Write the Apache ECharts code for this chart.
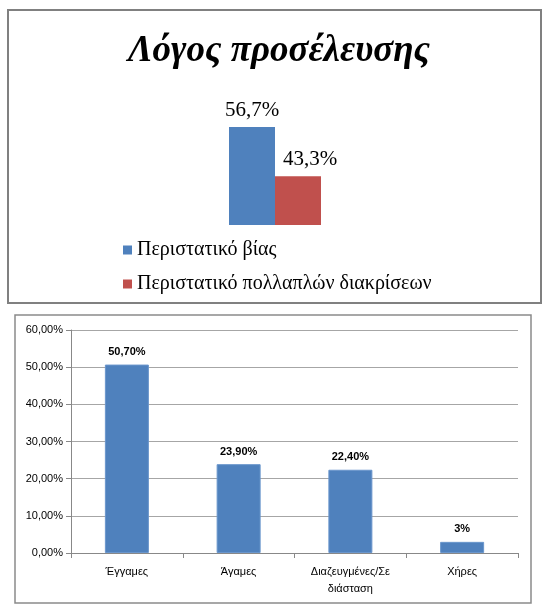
<!DOCTYPE html>
<html>
<head>
<meta charset="utf-8">
<script src="https://cdn.jsdelivr.net/npm/echarts@6/dist/echarts.min.js"></script>
<style>
  html, body { margin: 0; padding: 0; background: #fff; }
  #chart { width: 552px; height: 611px; }
</style>
</head>
<body>
<div id="chart"></div>
<script>
// Γράφημα 1: λόγος προσέλευσης
var reasonNames = ['Περιστατικό βίας', 'Περιστατικό πολλαπλών διακρίσεων'];
var reasonValues = [56.7, 43.3];

// Γράφημα 2: οικογενειακή κατάσταση
var statusCategories = ['Έγγαμες', 'Άγαμες', 'Διαζευγμένες/Σε\nδιάσταση', 'Χήρες'];
var statusValues = [50.7, 23.9, 22.4, 3];
var statusLabels = ['50,70%', '23,90%', '22,40%', '3%'];

document.addEventListener('DOMContentLoaded', function () {
  var chart = echarts.init(document.getElementById('chart'));

  var serif = '"Liberation Serif", "DejaVu Serif", serif';
  var sans = '"Liberation Sans", Arial, sans-serif';

  var option = {
    animation: false,
    title: {
      text: 'Λόγος προσέλευσης',
      left: 274,
      top: 28,
      textAlign: 'center',
      textStyle: {
        fontFamily: serif,
        fontSize: 37,
        fontWeight: 'bold',
        fontStyle: 'italic',
        color: '#000'
      }
    },
    legend: {
      data: reasonNames,
      orient: 'vertical',
      left: 118,
      top: 235,
      itemWidth: 9,
      itemHeight: 9,
      itemGap: 14,
      icon: 'rect',
      textStyle: { fontFamily: serif, fontSize: 20, color: '#000' }
    },
    graphic: [
      {
        type: 'rect',
        shape: { x: 8, y: 10, width: 533, height: 293 },
        style: { fill: 'none', stroke: '#808080', lineWidth: 2 }
      },
      {
        type: 'rect',
        shape: { x: 15, y: 315, width: 516, height: 288 },
        style: { fill: 'none', stroke: '#8a8a8a', lineWidth: 1.5 }
      }
    ],
    grid: [
      { left: 175, right: 177, top: 115, bottom: 386 },
      { left: 71, right: 34, top: 330, bottom: 58 }
    ],
    xAxis: [
      {
        type: 'category',
        gridIndex: 0,
        data: [''],
        show: false
      },
      {
        type: 'category',
        gridIndex: 1,
        data: statusCategories,
        axisLine: { lineStyle: { color: '#888' } },
        axisTick: { show: true, length: 5, lineStyle: { color: '#888' } },
        axisLabel: {
          fontFamily: sans,
          fontSize: 11,
          color: '#000',
          margin: 10,
          lineHeight: 17
        }
      }
    ],
    yAxis: [
      {
        type: 'value',
        gridIndex: 0,
        min: 30,
        max: 60,
        show: false,
        splitLine: { show: false }
      },
      {
        type: 'value',
        gridIndex: 1,
        min: 0,
        max: 60,
        interval: 10,
        axisLine: { show: true, lineStyle: { color: '#888' } },
        axisTick: { show: true, length: 5, lineStyle: { color: '#888' } },
        splitLine: { lineStyle: { color: '#a6a6a6' } },
        axisLabel: {
          fontFamily: sans,
          fontSize: 11,
          color: '#000',
          margin: 8,
          formatter: function (v) { return v.toFixed(2).replace('.', ',') + '%'; }
        }
      }
    ],
    series: [
      {
        name: reasonNames[0],
        type: 'bar',
        xAxisIndex: 0,
        yAxisIndex: 0,
        data: [reasonValues[0]],
        barWidth: 46,
        barGap: '0%',
        itemStyle: { color: '#4F81BD' },
        label: {
          show: true,
          position: 'top',
          distance: 6,
          fontFamily: serif,
          fontSize: 21,
          color: '#000',
          formatter: function (p) { return p.value.toFixed(1).replace('.', ',') + '%'; }
        }
      },
      {
        name: reasonNames[1],
        type: 'bar',
        xAxisIndex: 0,
        yAxisIndex: 0,
        data: [reasonValues[1]],
        barWidth: 46,
        barGap: '0%',
        itemStyle: { color: '#C0504D' },
        label: {
          show: true,
          position: 'top',
          distance: 6,
          offset: [12, 0],
          fontFamily: serif,
          fontSize: 21,
          color: '#000',
          formatter: function (p) { return p.value.toFixed(1).replace('.', ',') + '%'; }
        }
      },
      {
        name: 'Οικογενειακή κατάσταση',
        type: 'bar',
        xAxisIndex: 1,
        yAxisIndex: 1,
        data: statusValues,
        barWidth: 44,
        itemStyle: { color: '#4F81BD', borderColor: '#6a96cc', borderWidth: 1 },
        label: {
          show: true,
          position: 'top',
          distance: 7,
          fontFamily: sans,
          fontSize: 11,
          fontWeight: 'bold',
          color: '#000',
          formatter: function (p) { return statusLabels[p.dataIndex]; }
        }
      }
    ]
  };

  chart.setOption(option);
});
</script>
</body>
</html>
